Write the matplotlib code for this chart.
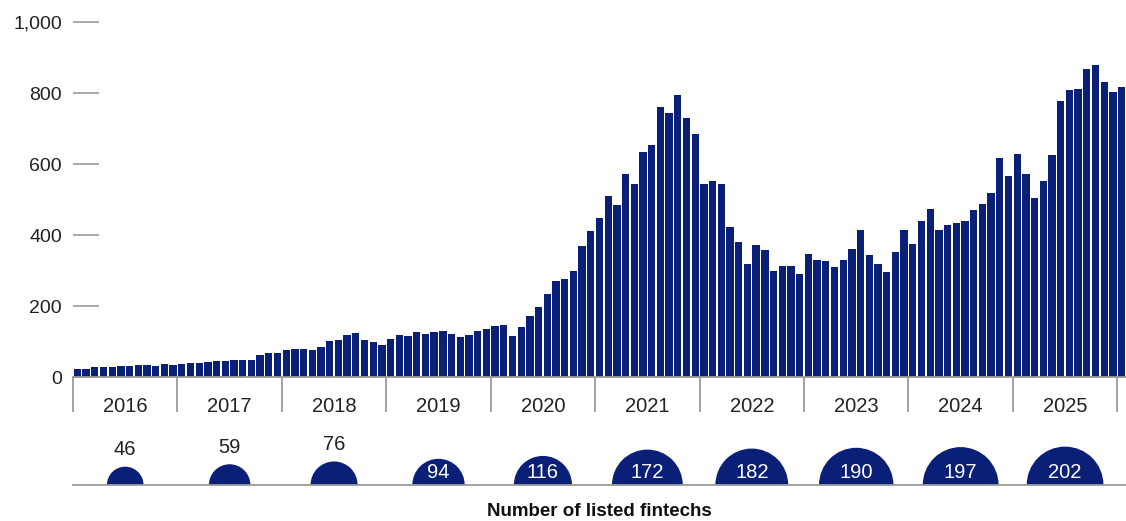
import numpy as np
import matplotlib
matplotlib.use("Agg")
import matplotlib.pyplot as plt
from matplotlib.ticker import FuncFormatter, MultipleLocator

plt.rcParams["font.family"] = ["Liberation Sans", "DejaVu Sans"]

NAVY = "#0a1f78"
GREY = "#9b9b9b"
TXT = "#222222"

years = [2016, 2017, 2018, 2019, 2020, 2021, 2022, 2023, 2024, 2025]

# monthly values, Jan 2016 .. Jan 2026
v2016 = [23, 23, 29, 29, 29, 32, 32, 34, 34, 32, 37, 34]
v2017 = [37, 40, 40, 43, 46, 46, 48, 48, 48, 63, 68, 68]
v2018 = [77, 79, 79, 77, 85, 102, 105, 119, 124, 105, 99, 91]
v2019 = [108, 119, 116, 127, 122, 127, 130, 122, 113, 119, 130, 136]
v2020 = [144, 147, 116, 141, 172, 198, 234, 271, 276, 299, 369, 411]
v2021 = [449, 511, 485, 573, 545, 634, 654, 761, 744, 795, 730, 685]
v2022 = [545, 553, 545, 423, 380, 318, 372, 358, 299, 313, 313, 290]
v2023 = [347, 330, 327, 310, 330, 361, 415, 344, 318, 296, 352, 415]
v2024 = [375, 440, 474, 415, 429, 434, 440, 471, 488, 519, 618, 567]
v2025 = [630, 573, 505, 553, 626, 779, 810, 812, 868, 880, 832, 804]
v2026 = [818]

values = v2016 + v2017 + v2018 + v2019 + v2020 + v2021 + v2022 + v2023 + v2024 + v2025 + v2026

# number of listed fintechs per year
listed = [46, 59, 76, 94, 116, 172, 182, 190, 197, 202]

W, H = 1126, 521
fig = plt.figure(figsize=(W / 100, H / 100), dpi=100)

# main bar chart
ax = fig.add_axes([73 / W, (H - 377.2) / H, (W - 73) / W, (377.2 - 22.4) / H])
x = np.arange(len(values))
ax.bar(x + 0.5, values, width=0.84, color=NAVY, zorder=2)
ax.set_xlim(0, len(values))
ax.set_ylim(0, 1000)

for s in ["top", "right", "left"]:
    ax.spines[s].set_visible(False)
ax.spines["bottom"].set_color(GREY)
ax.spines["bottom"].set_linewidth(1.3)
ax.spines["bottom"].set_zorder(3)

ax.yaxis.set_major_locator(MultipleLocator(200))
ax.yaxis.set_major_formatter(FuncFormatter(lambda v, p: f"{int(v):,}"))
ax.tick_params(axis="y", direction="in", length=26 * 0.72, width=1.2,
               color=GREY, pad=11 * 0.72, labelsize=14, labelcolor=TXT)

ax.set_xticks([12 * i + 6 for i in range(len(years))])
ax.set_xticklabels([str(y) for y in years])
ax.set_xticks([12 * i for i in range(len(years) + 1)], minor=True)
ax.tick_params(axis="x", which="major", length=0, pad=14, labelsize=14.5, labelcolor=TXT)
ax.tick_params(axis="x", which="minor", direction="out", length=35 * 0.72,
               width=1.3, color=GREY)

# bubble row
ax2 = fig.add_axes([73 / W, (H - 485) / H, (W - 73) / W, 60 / H])
ax2.set_xlim(0, len(values))
ax2.set_ylim(0, 60)
for s in ["top", "right", "left"]:
    ax2.spines[s].set_visible(False)
ax2.spines["bottom"].set_color(GREY)
ax2.spines["bottom"].set_linewidth(1.3)
ax2.spines["bottom"].set_zorder(3)
ax2.set_xticks([])
ax2.set_yticks([])
ax2.patch.set_alpha(0)

cx = [12 * i + 6 for i in range(len(years))]
r = 2.7 * np.sqrt(np.array(listed))  # radius in px
ax2.scatter(cx, [0] * len(cx), s=(2 * r * 0.72) ** 2, color=NAVY, linewidths=0, zorder=2)
for xi, n, ri in zip(cx, listed, r):
    if n < 90:
        ax2.text(xi, ri + 17, str(n), ha="center", va="center", fontsize=14.5,
                 color=TXT, clip_on=False)
    else:
        ax2.text(xi, 13, str(n), ha="center", va="center", fontsize=14.5,
                 color="white", zorder=3)

fig.text(599 / W, (H - 511) / H, "Number of listed fintechs", ha="center",
         va="center", fontsize=13.5, fontweight="bold", color="#111111")

fig.savefig("out.png", dpi=100)
